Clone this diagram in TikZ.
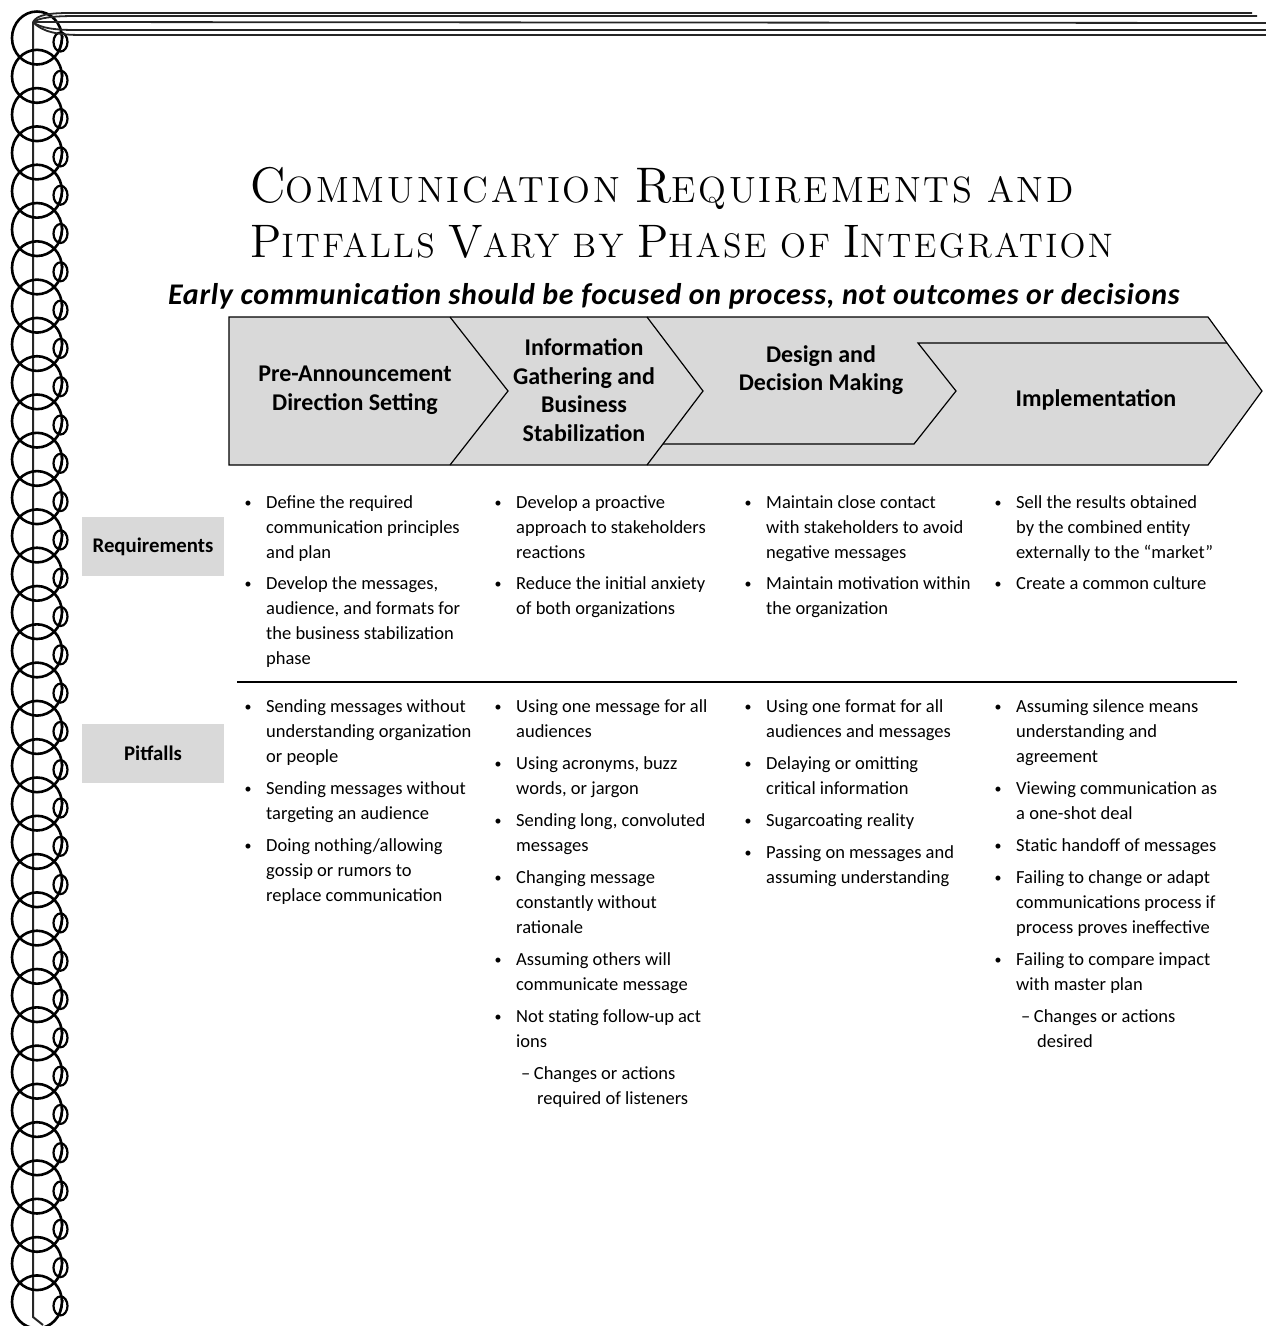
\documentclass[tikz,border=0pt]{standalone}
\usepackage{fontspec}
\setsansfont{Carlito}
\newfontfamily\titlefont{lmroman12-regular.otf}[LetterSpace=7]
\newfontfamily\titlewide{lmroman12-regular.otf}[LetterSpace=8]
\newfontfamily\leadfont{Carlito}[LetterSpace=2.5]
\usepackage{tikz}
\usetikzlibrary{positioning}

\definecolor{boxgray}{HTML}{D9D9D9}

% title letters: big initial, smaller capitals after it
\newcommand\tcap[2]{{\fontsize{47}{56}\selectfont #1}#2}
\newcommand\tcapw[2]{{\fontsize{50}{56}\selectfont #1}#2}
\newcommand\bul{\llap{\raisebox{1.2pt}{\fontsize{14}{14}\selectfont\textbullet}\hspace{14.5pt}}}
\newcommand\subdash{\hspace{5pt}–\hspace{3.5pt}}

\tikzset{
  ring/.style={line width=2.6pt},
  topline/.style={line width=1.8pt, draw=black!85},
  rule/.style={line width=1.3pt},
  headline/.style={anchor=base west, inner sep=0pt},
  phasebox/.style={fill=boxgray, draw=black, line width=1.2pt},
  phaseline/.style={draw=black, line width=1.2pt},
  phasetext/.style={align=center, inner sep=0pt, font=\sffamily\bfseries\fontsize{24}{28.5}\selectfont},
  rowtag/.style={fill=boxgray, minimum width=142, minimum height=59, inner sep=0pt, font=\sffamily\bfseries\fontsize{20.8}{24}\selectfont},
  cell/.style={anchor=north west, align=left, inner sep=0pt, font=\sffamily\fontsize{18.5}{25}\selectfont},
}

\begin{document}
\begin{tikzpicture}[x=1pt, y=-1pt]
  \useasboundingbox (0,0) rectangle (1266,1326);

  % spiral binding
  \draw[line width=2pt, draw=black!85] (33,22) -- (33,1317) -- (43,1325);
  \foreach \k in {0,...,33}{
    \pgfmathsetmacro\yc{38+38.3*\k}
    \draw[ring] (37,\yc) ellipse[x radius=25, y radius=26.5];
    \draw[line width=2.2pt] (60.5,\yc+4) ellipse[x radius=7, y radius=9.5];
    \draw[line width=1.8pt] (62.8,\yc-2) -- (59.2,\yc+12);
  }

  % page edge lines along the top
  \draw[topline] (33,22) .. controls (37,15) and (48,13) .. (70,13) -- (1252,13);
  \draw[topline] (33,22) .. controls (39,18) and (52,16) .. (75,16) -- (1257,16);
  \draw[topline] (33,22) -- (1266,23);
  \draw[topline] (33,22) .. controls (40,28) and (55,30) .. (75,30) -- (1266,30);
  \draw[topline] (33,22) .. controls (42,32) and (58,35) .. (82,35) -- (1266,35);

  % title
  \node[headline, font=\titlewide\fontsize{36.5}{56}\selectfont] (titleA) at (250,202)
    {\tcapw{C}{OMMUNICATION} \tcapw{R}{EQUIREMENTS} AND};
  \node[headline, font=\titlefont\fontsize{34}{56}\selectfont] (titleB) at (250,257)
    {\tcap{P}{ITFALLS} \tcap{V}{ARY} BY \tcap{P}{HASE} OF \tcap{I}{NTEGRATION}};
  \node[anchor=base, font=\leadfont\bfseries\itshape\fontsize{30}{34}\selectfont] (lead) at (674,304)
    {Early communication should be focused on process, not outcomes or decisions};

  % phase arrows
  \draw[phasebox] (229,317) -- (1208,317) -- (1262,391) -- (1208,465) -- (229,465) -- cycle;
  \draw[phaseline] (450,317) -- (508,391) -- (450,465);
  \draw[phaseline] (647,317) -- (703,391) -- (647,465);
  \draw[phaseline] (663,444) -- (914,444) -- (956,391) -- (918,343) -- (1227,343);

  \node[phasetext] (preann) at (355,390) {Pre-Announcement\\Direction Setting};
  \node[phasetext] (infogath) at (584,390) {Information\\Gathering and\\Business\\Stabilization};
  \node[phasetext] (design) at (821,370) {Design and\\Decision Making};
  \node[phasetext] (implement) at (1096,400) {Implementation};

  % row labels and divider
  \node[rowtag] (reqtag) at (153,546.5) {Requirements};
  \node[rowtag] (pittag) at (153,753.5) {Pitfalls};
  \draw[rule] (237,682) -- (1237,682);

  % requirements
  \node[cell] (req1) at (266,490.5) {\strut\bul Define the required\\ communication principles\\ and plan\\[6.5pt]
    \bul Develop the messages,\\ audience, and formats for\\ the business stabilization\\ phase};
  \node[cell] (req2) at (516,490.5) {\strut\bul Develop a proactive\\ approach to stakeholders\\ reactions\\[6.5pt]
    \bul Reduce the initial anxiety\\ of both organizations};
  \node[cell] (req3) at (766,490.5) {\strut\bul Maintain close contact\\ with stakeholders to avoid\\ negative messages\\[6.5pt]
    \bul Maintain motivation within\\ the organization};
  \node[cell] (req4) at (1016,490.5) {\strut\bul Sell the results obtained\\ by the combined entity\\ externally to the “market”\\[6.5pt]
    \bul Create a common culture};

  % pitfalls
  \node[cell] (pit1) at (266,694.5) {\strut\bul Sending messages without\\ understanding organization\\ or people\\[7pt]
    \bul Sending messages without\\ targeting an audience\\[7pt]
    \bul Doing nothing/allowing\\ gossip or rumors to\\ replace communication};
  \node[cell] (pit2) at (516,694.5) {\strut\bul Using one message for all\\ audiences\\[7pt]
    \bul Using acronyms, buzz\\ words, or jargon\\[7pt]
    \bul Sending long, convoluted\\ messages\\[7pt]
    \bul Changing message\\ constantly without\\ rationale\\[7pt]
    \bul Assuming others will\\ communicate message\\[7pt]
    \bul Not stating follow-up act\\ ions\\[7pt]
    \subdash Changes or actions\\ \hspace{21pt}required of listeners};
  \node[cell] (pit3) at (766,694.5) {\strut\bul Using one format for all\\ audiences and messages\\[7pt]
    \bul Delaying or omitting\\ critical information\\[7pt]
    \bul Sugarcoating reality\\[7pt]
    \bul Passing on messages and\\ assuming understanding};
  \node[cell] (pit4) at (1016,694.5) {\strut\bul Assuming silence means\\ understanding and\\ agreement\\[7pt]
    \bul Viewing communication as\\ a one-shot deal\\[7pt]
    \bul Static handoff of messages\\[7pt]
    \bul Failing to change or adapt\\ communications process if\\ process proves ineffective\\[7pt]
    \bul Failing to compare impact\\ with master plan\\[7pt]
    \subdash Changes or actions\\ \hspace{21pt}desired};
\end{tikzpicture}
\end{document}
